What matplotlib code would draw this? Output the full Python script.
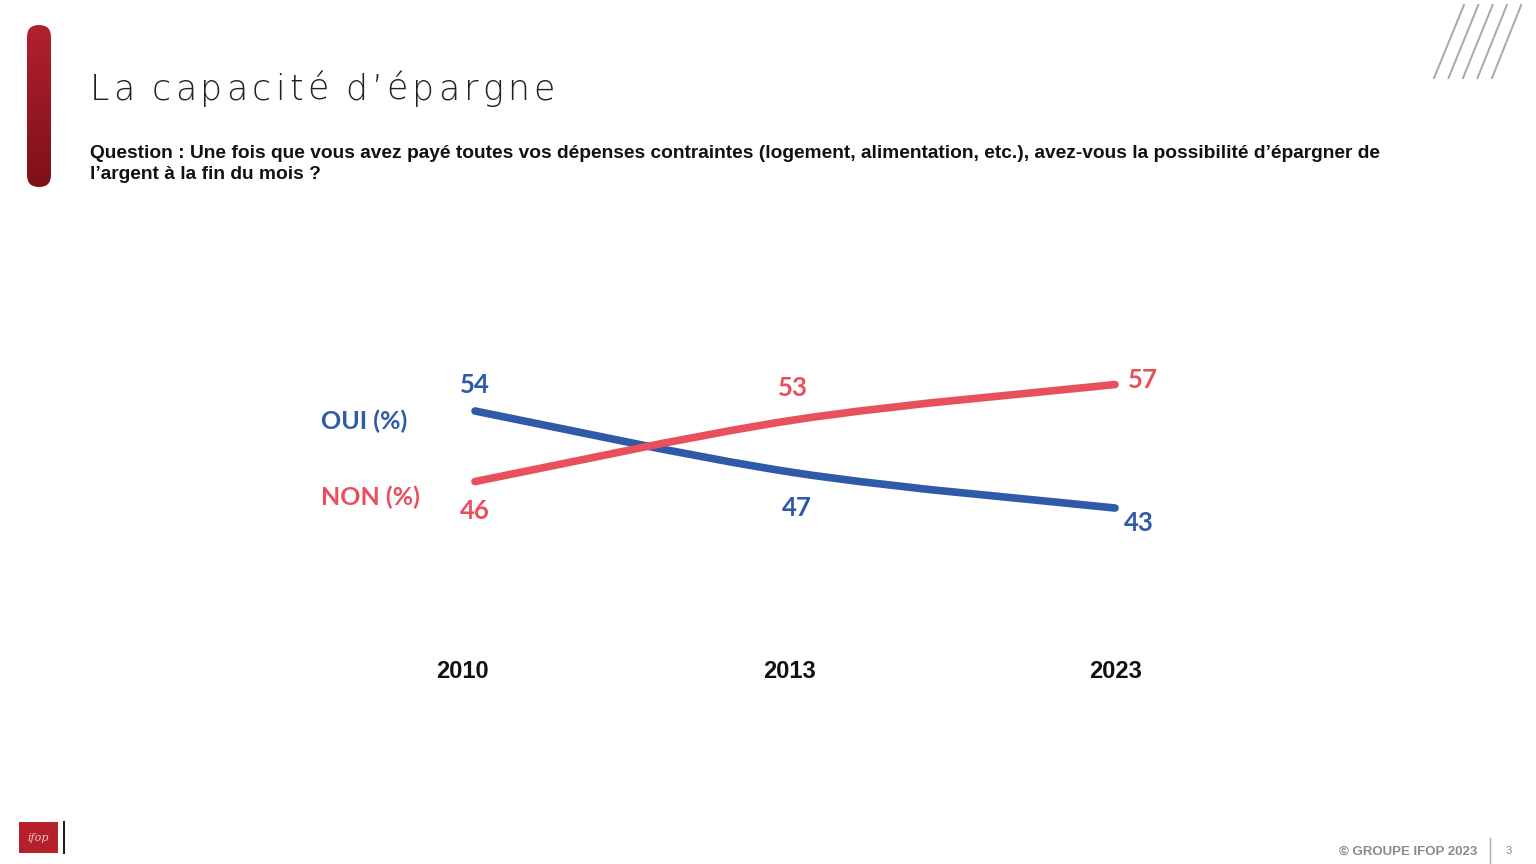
import numpy as np
import matplotlib
matplotlib.use("Agg")
import matplotlib.pyplot as plt
from matplotlib.path import Path
from matplotlib.patches import PathPatch, FancyBboxPatch, Rectangle
from matplotlib.lines import Line2D

# data
years = ["2010", "2013", "2023"]
oui = [54, 47, 43]
non = [46, 53, 57]

title = "La capacit\u00e9 d\u2019\u00e9pargne"
question = ("Question : Une fois que vous avez pay\u00e9 toutes vos d\u00e9penses contraintes "
            "(logement, alimentation, etc.), avez-vous la possibilit\u00e9 d\u2019\u00e9pargner de\n"
            "l\u2019argent \u00e0 la fin du mois ?")

BLUE = "#2F5AA8"
RED = "#E9505E"

W, H = 1536, 864
fig = plt.figure(figsize=(W / 100, H / 100), dpi=100)
fig.patch.set_facecolor("white")


def fx(px):
    return px / W


def fy(py):
    return 1 - py / H


# red bar on the left, with a vertical gradient
bar_ax = fig.add_axes([fx(20), fy(192), fx(38), (192 - 20) / H])
bar_ax.axis("off")
bar = FancyBboxPatch((27 + 12, 25 + 12), 0, 162 - 24,
                     boxstyle="round,pad=12", fc="none", ec="none")
bar_ax.add_patch(bar)
grad = np.linspace(0, 1, 256).reshape(-1, 1)
cmap = matplotlib.colors.LinearSegmentedColormap.from_list("bar", ["#B3222F", "#7C0F19"])
im = bar_ax.imshow(grad, cmap=cmap, extent=(20, 58, 192, 20), aspect="auto")
im.set_clip_path(bar)
bar_ax.set_xlim(20, 58)
bar_ax.set_ylim(192, 20)

# title with wide letter spacing
renderer = fig.canvas.get_renderer()
x = 90
for ch in title:
    t = fig.text(fx(x), fy(100), ch, fontsize=25, family="DejaVu Sans",
                 fontweight="light", color="#222222", ha="left", va="baseline")
    if ch == " ":
        w = 8
    else:
        w = t.get_window_extent(renderer).width
    x += w + 4.2

fig.text(fx(90), fy(145), question, fontsize=13.8, family="Liberation Sans",
         fontweight="bold", color="#111111", ha="left", va="top", linespacing=1.3)

# top right stripes
for i in range(5):
    fig.add_artist(Line2D([fx(1434 + 14.5 * i), fx(1464 + 14.3 * i)], [fy(78), fy(5)],
                          color="#A8A8A8", lw=1.4))

# chart
ax = fig.add_axes([fx(300), fy(700), fx(900), (700 - 350) / H])
ppu = 320.0
ax.set_xlim(-175 / ppu, 2 + 85 / ppu)
ax.set_ylim(54 - 289 / 8.82, 54 + 61 / 8.82)
ax.axis("off")


def smooth_path(xs, ys):
    # catmull-rom -> cubic bezier through the data points
    pts = list(zip(xs, ys))
    verts = [pts[0]]
    codes = [Path.MOVETO]
    n = len(pts)
    for i in range(n - 1):
        p0 = pts[i - 1] if i > 0 else pts[i]
        p1 = pts[i]
        p2 = pts[i + 1]
        p3 = pts[i + 2] if i + 2 < n else pts[i + 1]
        c1 = (p1[0] + (p2[0] - p0[0]) / 6, p1[1] + (p2[1] - p0[1]) / 6)
        c2 = (p2[0] - (p3[0] - p1[0]) / 6, p2[1] - (p3[1] - p1[1]) / 6)
        verts += [c1, c2, p2]
        codes += [Path.CURVE4] * 3
    return Path(verts, codes)


xs = np.arange(len(years))
ax.add_patch(PathPatch(smooth_path(xs, oui), fc="none", ec=BLUE, lw=5.5, capstyle="round"))
ax.add_patch(PathPatch(smooth_path(xs, non), fc="none", ec=RED, lw=5.5, capstyle="round"))

lab = dict(fontsize=18.5, family="Lato", fontweight="bold", ha="center", va="center",
           textcoords="offset pixels")
oui_off = [(0, 26), (2, -35), (24, -15)]
non_off = [(0, -29), (-2, 32), (28, 5)]
for i in range(len(years)):
    ax.annotate(str(oui[i]), (xs[i], oui[i]), xytext=oui_off[i], color=BLUE, **lab)
    ax.annotate(str(non[i]), (xs[i], non[i]), xytext=non_off[i], color=RED, **lab)

fig.text(fx(321), fy(421), "OUI (%)", fontsize=18, family="Lato", fontweight="bold",
         color=BLUE, ha="left", va="center")
fig.text(fx(321), fy(497), "NON (%)", fontsize=18, family="Lato", fontweight="bold",
         color=RED, ha="left", va="center")

year_px = [462, 790, 1116]
for i, yr in enumerate(years):
    fig.text(fx(year_px[i]), fy(671), yr, fontsize=17, family="Liberation Sans",
             fontweight="bold", color="#111111", ha="center", va="center")

# footer
fig.add_artist(Rectangle((fx(19), fy(853)), fx(39), 31 / H, fc="#B5202B", ec="none"))
fig.text(fx(38.5), fy(838), "ifop", fontsize=8, family="DejaVu Serif", style="italic",
         color="#F3C9C9", ha="center", va="center")
fig.add_artist(Line2D([fx(64), fx(64)], [fy(822), fy(853)], color="#222222", lw=1.5))

fig.text(fx(1477), fy(852), "\u00a9 GROUPE IFOP 2023", fontsize=9.5, family="Liberation Sans",
         fontweight="bold", color="#8A8A8A", ha="right", va="center")
fig.add_artist(Line2D([fx(1490), fx(1490)], [fy(838), fy(863)], color="#AAAAAA", lw=1))
fig.text(fx(1509), fy(851), "3", fontsize=8, family="Liberation Sans",
         color="#8A8A8A", ha="center", va="center")

fig.savefig("out.png", dpi=100)
